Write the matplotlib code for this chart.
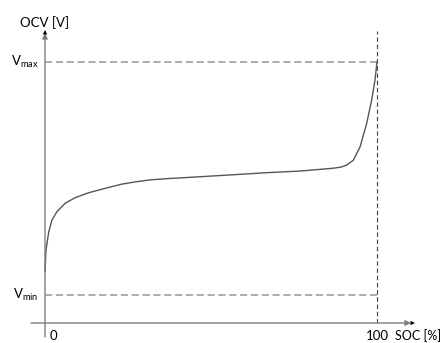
import matplotlib
matplotlib.use("Agg")
import matplotlib.pyplot as plt

plt.rcParams['font.family'] = ['Lato', 'DejaVu Sans']
plt.rcParams['mathtext.default'] = 'regular'

# SOC [%] and normalized OCV (0 = Vmin, 1 = Vmax)
soc = [0, 0.30, 1.11, 2.11, 3.61, 6.11, 9.13, 13.2, 18.2, 23.2, 27.5, 31.6,
       37.5, 43.7, 56.6, 66.8, 76.8, 86.8, 89.2, 90.9, 92.9, 94.9, 96.9,
       98.4, 99.4, 100]
ocv = [0.099, 0.193, 0.270, 0.322, 0.358, 0.394, 0.418, 0.439, 0.458, 0.476,
       0.486, 0.494, 0.500, 0.505, 0.516, 0.525, 0.532, 0.544, 0.549, 0.558,
       0.579, 0.636, 0.737, 0.837, 0.923, 1.0]
v_min, v_max = 0.0, 1.0
soc_max = 100
x_ticks = [0, 100]
x_tick_labels = ["0", "100"]
y_labels = [r"V$_{max}$", r"V$_{min}$"]

fig = plt.figure(figsize=(4.43, 3.43), dpi=100)
ax = fig.add_axes([0, 0, 1, 1])
px_per_x = 3.32
px_per_y = 233.0
ax.set_xlim((0 - 45) / px_per_x, (443 - 45) / px_per_x)
ax.set_ylim((295 - 343) / px_per_y, 295 / px_per_y)
ax.axis('off')

axis_col = '#7f7f7f'
y_xaxis = (295 - 323) / px_per_y
# x axis
ax.annotate('', xy=((411 - 45) / px_per_x, y_xaxis), xytext=((31 - 45) / px_per_x, y_xaxis),
            arrowprops=dict(arrowstyle='-|>', color=axis_col, lw=1.0,
                            mutation_scale=8, shrinkA=0, shrinkB=0))
ax.annotate('', xy=((415 - 45) / px_per_x, y_xaxis), xytext=((405 - 45) / px_per_x, y_xaxis),
            arrowprops=dict(arrowstyle='-|>', color='black', lw=0.01,
                            mutation_scale=8, shrinkA=0, shrinkB=0))
# y axis
ax.annotate('', xy=(0, (295 - 33) / px_per_y), xytext=(0, (295 - 337) / px_per_y),
            arrowprops=dict(arrowstyle='-|>', color=axis_col, lw=1.0,
                            mutation_scale=8, shrinkA=0, shrinkB=0))
ax.annotate('', xy=(0, (295 - 30) / px_per_y), xytext=(0, (295 - 40) / px_per_y),
            arrowprops=dict(arrowstyle='-|>', color='black', lw=0.01,
                            mutation_scale=8, shrinkA=0, shrinkB=0))

# dashed guides
ax.plot([0, soc_max], [v_max, v_max], color='#a6a6a6', lw=1.3, dashes=(4, 2))
ax.plot([0, soc_max], [v_min, v_min], color='#a6a6a6', lw=1.3, dashes=(4, 2))
ax.plot([soc_max, soc_max], [y_xaxis, (295 - 31) / px_per_y], color='#404040',
        lw=0.8, dashes=(4, 2.5))

# OCV curve
ax.plot(soc, ocv, color='#555555', lw=1.0, solid_capstyle='round',
        solid_joinstyle='round')

fs = 9.5
ax.text(0, (295 - 23) / px_per_y, "OCV [V]", ha='center', va='center', fontsize=fs)
ax.text((39 - 45) / px_per_x, v_max, y_labels[0], ha='right', va='center', fontsize=fs)
ax.text((38 - 45) / px_per_x, v_min, y_labels[1], ha='right', va='center', fontsize=fs)
ax.text((50 - 45) / px_per_x, (295 - 336) / px_per_y, x_tick_labels[0], ha='left',
        va='center', fontsize=fs)
ax.text(x_ticks[1], (295 - 336) / px_per_y, x_tick_labels[1], ha='center',
        va='center', fontsize=fs)
ax.text((441 - 45) / px_per_x, (295 - 336) / px_per_y, "SOC [%]", ha='right',
        va='center', fontsize=9)

fig.savefig("out.png", dpi=100)
